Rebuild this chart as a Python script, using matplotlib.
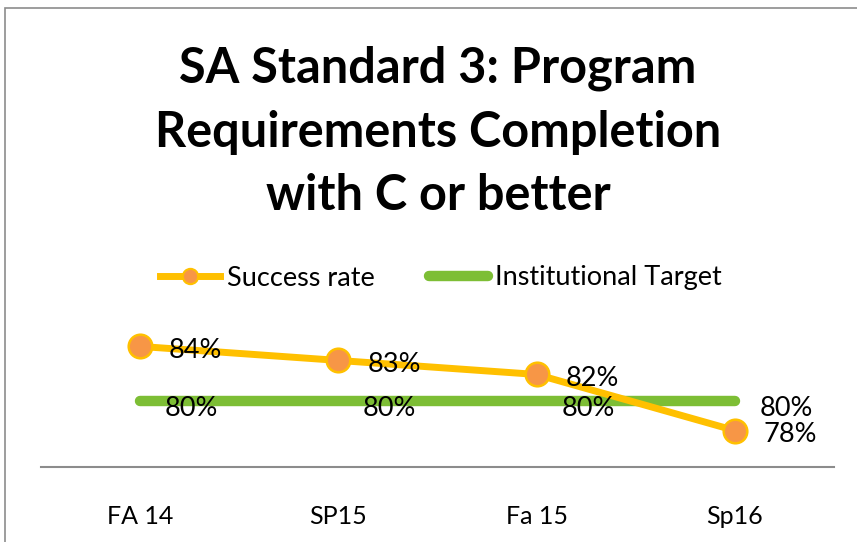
import numpy as np
import matplotlib
matplotlib.use('Agg')
import matplotlib.pyplot as plt
from matplotlib.lines import Line2D
from matplotlib.patches import Rectangle

plt.rcParams['font.family'] = ['Lato', 'DejaVu Sans']

# data
terms = ['FA 14', 'SP15', 'Fa 15', 'Sp16']
success_rate = [83.9, 82.9, 81.9, 77.9]
target = [80, 80, 80, 80]
success_labels = ['84%', '83%', '82%', '78%']
target_labels = ['80%', '80%', '80%', '80%']

GOLD = '#FFC000'
ORANGE = '#F79646'
GREEN = '#7DBE35'

W, H = 857, 542
fig = plt.figure(figsize=(W/100, H/100), dpi=100)

# outer chart border (cut off on right and bottom like the reference)
fig.add_artist(Rectangle((5/W, -0.05), 1.0, 1 - 8/H + 0.05, transform=fig.transFigure,
                         fill=False, ec='#8c8c8c', lw=1.2))

# plot area
ax = fig.add_axes([41/W, (H-467)/H, (834-41)/W, (467-331)/H])
x = np.arange(len(terms))
ax.set_xlim(-0.5, len(terms)-0.5)
ax.set_ylim(75.3, 85)

ax.plot(x, target, color=GREEN, lw=7.5, solid_capstyle='round', zorder=2)
ax.plot(x, success_rate, color=GOLD, lw=5, marker='o', ms=17,
        mfc=ORANGE, mec=GOLD, mew=1.8, zorder=3)

for xi, yi, lab in zip(x, success_rate, success_labels):
    ax.annotate(lab, (xi, yi), xytext=(40, -3), textcoords='offset points',
                ha='center', va='center', fontsize=19.5, color='black', zorder=4)
for xi, yi, lab in zip(x, target, target_labels):
    ax.annotate(lab, (xi, yi), xytext=(37, -5), textcoords='offset points',
                ha='center', va='center', fontsize=19.5, color='black', zorder=4)

for s in ['top', 'right', 'left']:
    ax.spines[s].set_visible(False)
ax.spines['bottom'].set_color('#8c8c8c')
ax.spines['bottom'].set_linewidth(1.5)
ax.set_yticks([])
ax.set_xticks(x)
ax.set_xticklabels(terms, fontsize=18)
ax.tick_params(axis='x', length=0, pad=27)

# title (baseline of the last line)
fig.text(438/W, 1 - 210/H, 'SA Standard 3: Program\nRequirements Completion\nwith C or better',
         ha='center', va='baseline', fontsize=35, fontweight='bold', linespacing=1.5)

# legend
handles = [Line2D([], [], color=GOLD, lw=5, marker='o', ms=11, mfc=ORANGE, mec=GOLD, mew=1.5),
           Line2D([], [], color=GREEN, lw=7.5, solid_capstyle='round')]
fig.legend(handles, ['Success rate', 'Institutional Target'], loc='center',
           bbox_to_anchor=(441/W, 1 - 278/H), ncol=2, frameon=False, fontsize=19.5,
           handlelength=2.2, handletextpad=0.25, columnspacing=2.0)

fig.savefig('out.png', dpi=100)
